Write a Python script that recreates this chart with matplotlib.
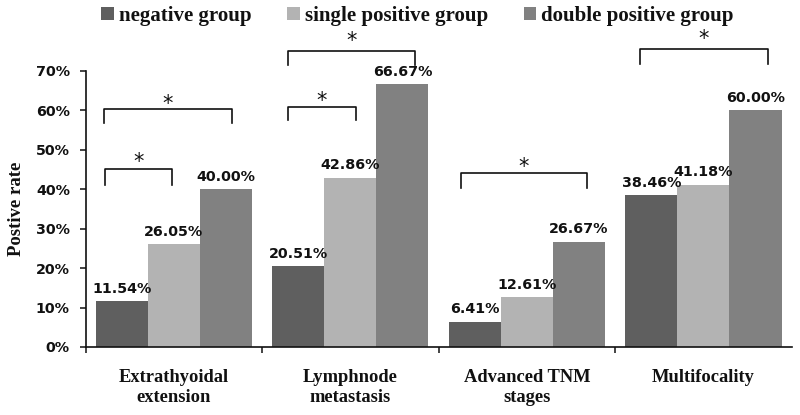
import numpy as np
import matplotlib
matplotlib.use("Agg")
import matplotlib.pyplot as plt
from matplotlib.patches import Patch

categories = ["Extrathyoidal\nextension", "Lymphnode\nmetastasis", "Advanced TNM\nstages", "Multifocality"]
groups = ["negative group", "single positive group", "double positive group"]
negative = [11.54, 20.51, 6.41, 38.46]
single_pos = [26.05, 42.86, 12.61, 41.18]
double_pos = [40.00, 66.67, 26.67, 60.00]
y_ticks = [0, 10, 20, 30, 40, 50, 60, 70]

# significance brackets: (category, left offset, right offset, top %, leg end %, star %)
brackets = [
    (0, -0.396, 0.329, 60.4, 56.9, 61.5),
    (0, -0.390, -0.011, 45.2, 41.1, 47.0),
    (1, -0.354, 0.366, 75.1, 71.6, 77.6),
    (1, -0.354, 0.031, 60.9, 57.6, 62.5),
    (2, -0.374, 0.340, 44.2, 40.4, 45.7),
    (3, -0.360, 0.366, 75.6, 71.8, 78.1),
]

colors = ["#5f5f5f", "#b3b3b3", "#818181"]
serif = "Liberation Serif"
sans = "DejaVu Sans"
ink = "#111111"

fig = plt.figure(figsize=(8, 4.15), dpi=100)
ax = fig.add_axes([0.107, 0.1639, 0.8826, 0.6651])

x = np.arange(len(categories))
w = 0.295
series = [negative, single_pos, double_pos]
for i, vals in enumerate(series):
    xs = x + (i - 1) * w
    ax.bar(xs, vals, width=w, color=colors[i], edgecolor="none", zorder=2)
    for xi, v in zip(xs, vals):
        ax.annotate("%.2f%%" % v, (xi, v), xytext=(0, 4), textcoords="offset points",
                    ha="center", va="bottom", fontsize=10.3, fontweight="bold",
                    family=sans, color=ink)

for c, l, r, top, leg, star in brackets:
    xl, xr = c + l, c + r
    ax.plot([xl, xl, xr, xr], [leg, top, top, leg], color=ink, lw=1.2,
            solid_joinstyle="round", clip_on=False, zorder=3)
    ax.text((xl + xr) / 2, star, "*", ha="center", va="center", fontsize=15,
            family=sans, color=ink, clip_on=False)

ax.set_xlim(-0.5, 3.5)
ax.set_ylim(0, 70)
ax.set_yticks(y_ticks)
ax.set_yticklabels(["%d%%" % t for t in y_ticks], fontsize=10.3, fontweight="bold",
                   family=sans, color=ink)
ax.tick_params(axis="y", direction="out", length=4.3, width=1.1, pad=7, color=ink)

ax.set_xticks(x)
ax.set_xticklabels(categories, fontsize=13.3, fontweight="bold", family=serif,
                   color=ink, linespacing=1.25)
ax.tick_params(axis="x", which="major", length=0, pad=16)
ax.set_xticks([-0.5, 0.5, 1.5, 2.5], minor=True)
ax.tick_params(axis="x", which="minor", direction="out", length=4.3, width=1.1, color=ink)

for s in ["top", "right"]:
    ax.spines[s].set_visible(False)
for s in ["left", "bottom"]:
    ax.spines[s].set_linewidth(1.2)
    ax.spines[s].set_color(ink)

ax.set_ylabel("Postive rate", fontsize=13.5, fontweight="bold", family=serif,
              color=ink, labelpad=8)

handles = [Patch(facecolor=colors[i], edgecolor="none") for i in range(3)]
fig.legend(handles, groups, loc="center", bbox_to_anchor=(0.522, 0.962), ncol=3,
           frameon=False, prop={"family": serif, "weight": "bold", "size": 15},
           handlelength=0.6, handleheight=0.6, handletextpad=0.25, columnspacing=1.7,
           labelcolor=ink)

fig.savefig("out.png", dpi=100)
